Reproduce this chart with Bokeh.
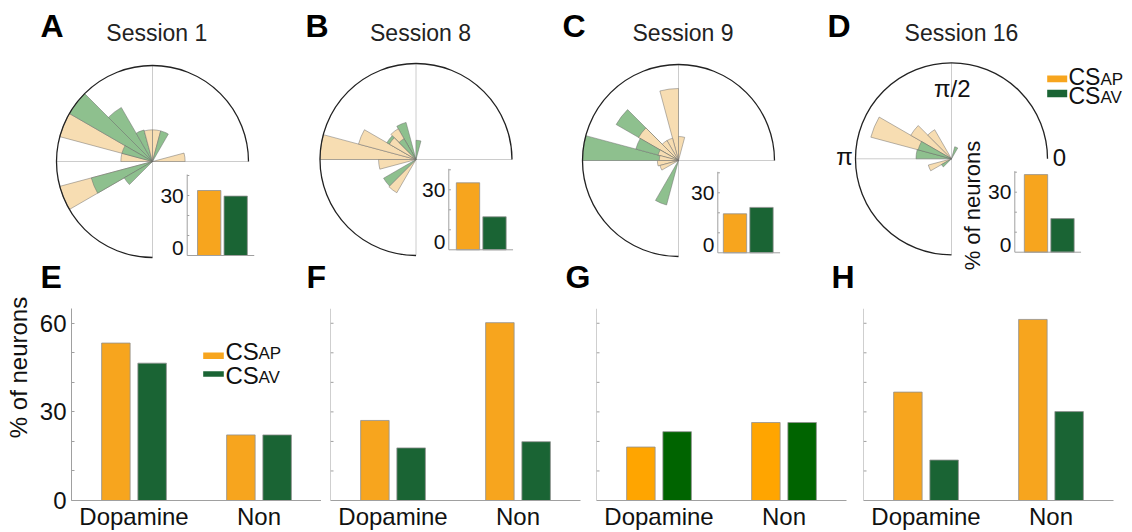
import math
from bokeh.plotting import figure
from bokeh.models import Range1d, FactorRange, Label, FixedTicker, ColumnDataSource, BoxAnnotation, Span
from bokeh.layouts import row, column
from bokeh.transform import dodge
from bokeh.embed import file_html
from bokeh.resources import INLINE
from bokeh.core.properties import value

FONT = "Liberation Sans"

# ---------------- data ----------------
SESSIONS = ["Session 1", "Session 8", "Session 9", "Session 16"]
TOP_LETTERS = ["A", "B", "C", "D"]
BOTTOM_LETTERS = ["E", "F", "G", "H"]
BIN_DEG = 15  # width of every rose sector (degrees)

# rose sectors: start angle of bin (deg) and relative length (1 = outer circle)
S1_AP_BIN = [0, 75, 90, 150, 165, 195]
S1_AP_LEN = [0.34, 0.33, 0.33, 1.0, 0.33, 1.0]
S1_AV_BIN = [60, 105, 120, 135, 150, 195, 210]
S1_AV_LEN = [0.33, 0.34, 0.65, 1.0, 0.33, 0.66, 0.34]

S8_AP_BIN = [120, 135, 150, 165, 180, 225]
S8_AP_LEN = [0.37, 0.32, 0.62, 1.0, 0.39, 0.40]
S8_AV_BIN = [75, 105, 120, 135, 210]
S8_AV_LEN = [0.20, 0.40, 0.25, 0.35, 0.39]

S9_AP_BIN = [75, 90, 105, 120, 135, 150, 165, 180, 195]
S9_AP_LEN = [0.25, 0.75, 0.24, 0.24, 0.48, 0.22, 0.20, 0.22, 0.20]
S9_AV_BIN = [135, 150, 165, 240]
S9_AV_LEN = [0.75, 0.46, 1.0, 0.48]

S16_AP_BIN = [120, 135, 150, 195]
S16_AP_LEN = [0.35, 0.49, 0.87, 0.25]
S16_AV_BIN = [60, 150, 165, 210]
S16_AV_LEN = [0.13, 0.36, 0.37, 0.12]

# inset bars (% of neurons)
INSET_GROUPS = ["CS_AP", "CS_AV"]
INSET_AP = [32.5, 33.5, 19.5, 38.8]
INSET_AV = [29.7, 16.5, 22.7, 16.8]
INSET_TICKS = [0, 30]
INSET_MINOR = [10, 20, 30, 40]

# bottom bar charts (% of neurons)
CATEGORIES = ["Dopamine", "Non"]
E_AP = [53.3, 22.2]
E_AV = [46.5, 22.2]
F_AP = [27.1, 60.2]
F_AV = [17.8, 19.9]
G_AP = [18.1, 26.4]
G_AV = [23.3, 26.4]
H_AP = [36.7, 61.3]
H_AV = [13.7, 30.1]
Y_TICKS = [0, 30, 60]
Y_MINOR = [10, 20, 40, 50]

ROSE = [
    (S1_AP_BIN, S1_AP_LEN, S1_AV_BIN, S1_AV_LEN),
    (S8_AP_BIN, S8_AP_LEN, S8_AV_BIN, S8_AV_LEN),
    (S9_AP_BIN, S9_AP_LEN, S9_AV_BIN, S9_AV_LEN),
    (S16_AP_BIN, S16_AP_LEN, S16_AV_BIN, S16_AV_LEN),
]
BOTTOM_AP = [E_AP, F_AP, G_AP, H_AP]
BOTTOM_AV = [E_AV, F_AV, G_AV, H_AV]

# ---------------- styles ----------------
AP_PALE = "#F7DDB2"
AV_PALE = "#8EC08E"
ORANGE = "#F7A51E"
GREEN = "#1A6434"
BOTTOM_COLORS = [(ORANGE, GREEN), (ORANGE, GREEN), ("#FFA500", "#006400"), (ORANGE, GREEN)]
AXIS_GRAY = "#A0A0A0"
CROSS_GRAY = "#CCCCCC"
TXT = "#111111"

# ---------------- layout (page pixels, origin at top-left of page) ----------------
PAGE_H = 532
YLABEL_W = 34
TOP_BOTTOM = 296
R_PX = 96.0
TOP_LEFT = [YLABEL_W, 287, 549, 815]
TOP_W = [287 - YLABEL_W, 262, 266, 317]
CENTERS = [(152, 161), (415.5, 159), (678, 160), (951, 158.3)]
INSET_AXIS_X = [186.7, 448.3, 717.3, 1014.3]
INSET_BAR1_X = [208.7, 467.5, 734.5, 1035.5]
INSET_BASE_Y = [255, 249.3, 252.3, 251.7]
INSET_PX_X = 26.5
INSET_PX_Y = 2.0
TITLE_X = [156.3, 420, 682.5, 961]
LETTER_X = [40, 305, 562, 827]
BLETTER_X = [40, 306, 565, 831]
LETTER_MID_Y = 25
TITLE_MID_Y = 32.5
BLETTER_MID_Y = 276

BOT_H = PAGE_H - TOP_BOTTOM
BOT_LEFT_BORDER = [37, 9, 11, 12]
BOT_RIGHT_BORDER = [0, 5, 5, 19]
BOT_FRAME_W = 250
BOT_FRAME_TOP = 308
BOT_TOP_BORDER = BOT_FRAME_TOP - TOP_BOTTOM
BOT_FRAME_H = 195
BOT_BOTTOM_BORDER = BOT_H - BOT_TOP_BORDER - BOT_FRAME_H
BOT_YMAX = 65


def top_panel(i):
    L, W = TOP_LEFT[i], TOP_W[i]
    cx, cy = CENTERS[i]
    X = lambda px: (px - cx) / R_PX
    Y = lambda py: (cy - py) / R_PX
    p = figure(width=W, height=TOP_BOTTOM,
               x_range=Range1d(X(L), X(L + W)), y_range=Range1d(Y(TOP_BOTTOM), Y(0)),
               x_axis_type=None, y_axis_type=None, toolbar_location=None,
               output_backend="svg", min_border=0, outline_line_color=None)
    p.grid.visible = False

    # reference cross
    if i == 3:
        p.segment(x0=[-1, 0], y0=[0, -1], x1=[0, 0], y1=[0, 1], line_color=CROSS_GRAY, line_width=1)
    else:
        p.segment(x0=[-1, 0], y0=[0, -1], x1=[1, 0], y1=[0, 1], line_color=CROSS_GRAY, line_width=1)

    ap_bin, ap_len, av_bin, av_len = ROSE[i]
    rows = [(b, l, AP_PALE) for b, l in zip(ap_bin, ap_len)] + \
           [(b, l, AV_PALE) for b, l in zip(av_bin, av_len)]
    rows.sort(key=lambda t: -t[1])
    src = ColumnDataSource(dict(
        a0=[math.radians(r[0]) for r in rows],
        a1=[math.radians(r[0] + BIN_DEG) for r in rows],
        r=[r[1] for r in rows],
        c=[r[2] for r in rows],
    ))
    p.wedge(x=0, y=0, radius="r", start_angle="a0", end_angle="a1", fill_color="c",
            line_color="#6a6a6a", line_width=0.6, line_alpha=0.8, source=src)
    p.arc(x=0, y=0, radius=1, start_angle=0, end_angle=1.5 * math.pi,
          line_color="#222222", line_width=1.3)

    # inset bar chart
    b1, xa, yb = INSET_BAR1_X[i], INSET_AXIS_X[i], INSET_BASE_Y[i]
    IX = lambda px: 1 + (px - b1) / INSET_PX_X
    p.extra_x_ranges = {"ix": Range1d(IX(L), IX(L + W))}
    p.extra_y_ranges = {"iy": Range1d(-(TOP_BOTTOM - yb) / INSET_PX_Y, yb / INSET_PX_Y)}
    ia = IX(xa)
    xs = [k + 1 for k in range(len(INSET_GROUPS))]
    p.vbar(x=xs, top=[INSET_AP[i], INSET_AV[i]], bottom=0, width=0.88,
           fill_color=[ORANGE, GREEN], line_color="#909090", line_width=0.8,
           x_range_name="ix", y_range_name="iy")
    p.segment(x0=[ia, ia], y0=[0, 0], x1=[ia, xs[-1] + 0.7], y1=[40.5, 0],
              line_color=AXIS_GRAY, line_width=1, x_range_name="ix", y_range_name="iy")
    p.segment(x0=[ia] * len(INSET_MINOR), y0=INSET_MINOR, x1=[ia + 0.08] * len(INSET_MINOR), y1=INSET_MINOR,
              line_color=AXIS_GRAY, line_width=1, x_range_name="ix", y_range_name="iy")
    # tick labels: "30" centred on its tick, "0" resting on the baseline
    p.text(x=[ia - 0.13, ia - 0.13], y=[INSET_TICKS[1], INSET_TICKS[0] + 3.75],
           text=[str(INSET_TICKS[1]), str(INSET_TICKS[0])], text_align="right",
           text_baseline="middle", text_font=value(FONT), text_font_size="21px", text_color=TXT,
           x_range_name="ix", y_range_name="iy")

    # panel letters and title
    p.add_layout(Label(x=X(LETTER_X[i]), y=Y(LETTER_MID_Y), text=TOP_LETTERS[i], text_font=FONT,
                       text_font_size="32px", text_font_style="bold", text_color="#000000",
                       text_align="left", text_baseline="middle"))
    p.add_layout(Label(x=X(TITLE_X[i]), y=Y(TITLE_MID_Y), text=SESSIONS[i], text_font=FONT,
                       text_font_size="23px", text_color="#222222",
                       text_align="center", text_baseline="middle"))
    p.add_layout(Label(x=X(BLETTER_X[i]), y=Y(BLETTER_MID_Y), text=BOTTOM_LETTERS[i], text_font=FONT,
                       text_font_size="32px", text_font_style="bold", text_color="#000000",
                       text_align="left", text_baseline="middle"))

    if i == 3:
        for txt, px, py in [("\u03c0/2", 951.7, 87.5), ("\u03c0", 844, 156), ("0", 1059, 157)]:
            p.add_layout(Label(x=X(px), y=Y(py), text=txt, text_font=FONT, text_font_size="24px",
                               text_color=TXT, text_align="center", text_baseline="middle"))
        p.add_layout(Label(x=X(972), y=Y(205), text="% of neurons", angle=math.pi / 2,
                           text_font=FONT, text_font_size="22px", text_color=TXT,
                           text_align="center", text_baseline="middle"))
        # legend
        for col, sub, ytop, ybot, ymid, ysub in [(ORANGE, "AP", 75, 81.7, 76.7, 78.9),
                                                 (GREEN, "AV", 89.3, 96.7, 95.0, 97.2)]:
            p.add_layout(BoxAnnotation(left=X(1046.7), right=X(1066.7), top=Y(ytop), bottom=Y(ybot),
                                       fill_color=col, fill_alpha=1, line_color=None))
            p.add_layout(Label(x=X(1068), y=Y(ymid), text="CS", text_font=FONT, text_font_size="23px",
                               text_color=TXT, text_align="left", text_baseline="middle"))
            p.add_layout(Label(x=X(1100), y=Y(ysub), text=sub, text_font=FONT, text_font_size="17px",
                               text_color=TXT, text_align="left", text_baseline="middle"))
    return p


def ylabel_panel():
    # full-height strip on the left that carries the value-axis title of panel E
    p = figure(width=YLABEL_W, height=PAGE_H, x_range=Range1d(0, YLABEL_W),
               y_range=Range1d(PAGE_H, 0),
               x_axis_type=None, y_axis_type=None, toolbar_location=None,
               output_backend="svg", min_border=0, outline_line_color=None)
    p.grid.visible = False
    p.add_layout(Label(x=18, y=367, text="% of neurons", angle=math.pi / 2,
                       text_font=FONT, text_font_size="24px", text_color=TXT,
                       text_align="center", text_baseline="middle"))
    return p


def bottom_panel(i):
    lb, rb = BOT_LEFT_BORDER[i], BOT_RIGHT_BORDER[i]
    p = figure(width=lb + BOT_FRAME_W + rb, height=BOT_H,
               x_range=FactorRange(factors=CATEGORIES), y_range=Range1d(0, BOT_YMAX),
               toolbar_location=None, output_backend="svg",
               min_border_left=lb, min_border_right=rb,
               min_border_top=BOT_TOP_BORDER, min_border_bottom=BOT_BOTTOM_BORDER,
               outline_line_color=None)
    p.grid.visible = False
    cap, cav = BOTTOM_COLORS[i]
    src = ColumnDataSource(dict(cat=CATEGORIES, ap=BOTTOM_AP[i], av=BOTTOM_AV[i]))
    p.vbar(x=dodge("cat", -0.145, range=p.x_range), top="ap", width=0.228, source=src,
           fill_color=cap, line_color="#909090", line_width=0.8)
    p.vbar(x=dodge("cat", 0.145, range=p.x_range), top="av", width=0.228, source=src,
           fill_color=cav, line_color="#909090", line_width=0.8)

    ya = p.yaxis[0]
    if i == 0:
        ya.ticker = FixedTicker(ticks=Y_TICKS, minor_ticks=Y_MINOR)
        ya.axis_line_color = AXIS_GRAY
        ya.major_tick_line_color = AXIS_GRAY
        ya.minor_tick_line_color = AXIS_GRAY
        ya.major_tick_in = 3
        ya.major_tick_out = 0
        ya.minor_tick_in = 3
        ya.minor_tick_out = 0
        ya.major_label_text_font = FONT
        ya.major_label_text_font_size = "24px"
        ya.major_label_text_color = TXT
        ya.major_label_standoff = 5
    else:
        # unlabeled value axis: line plus inward ticks at the same tick values
        ya.visible = False
        p.add_layout(Span(location=0, dimension="height", line_color=AXIS_GRAY, line_width=1))
        ticks = Y_TICKS[1:] + Y_MINOR
        p.segment(x0=[0] * len(ticks), y0=ticks, x1=[0.024] * len(ticks), y1=ticks,
                  line_color=AXIS_GRAY, line_width=1)

    xa = p.xaxis[0]
    xa.axis_line_color = AXIS_GRAY
    xa.major_tick_in = 0
    xa.major_tick_out = 0
    xa.minor_tick_in = 0
    xa.minor_tick_out = 0
    xa.major_label_text_font = FONT
    xa.major_label_text_font_size = "24px"
    xa.major_label_text_color = TXT
    xa.major_label_standoff = 2

    if i == 0:
        px_x = lambda px: (px - 71) / 125.0
        px_y = lambda py: (503 - py) / 3.0
        for col, sub, ytop, ybot, ymid, ysub in [(ORANGE, "AP", 352.7, 359.3, 351.4, 353.9),
                                                 (GREEN, "AV", 371.7, 377.3, 375.7, 378.2)]:
            p.add_layout(BoxAnnotation(left=px_x(202.7), right=px_x(223.3), top=px_y(ytop),
                                       bottom=px_y(ybot), fill_color=col, fill_alpha=1, line_color=None))
            p.add_layout(Label(x=px_x(225), y=px_y(ymid), text="CS", text_font=FONT,
                               text_font_size="24px", text_color=TXT,
                               text_align="left", text_baseline="middle"))
            p.add_layout(Label(x=px_x(258), y=px_y(ysub), text=sub, text_font=FONT,
                               text_font_size="17px", text_color=TXT,
                               text_align="left", text_baseline="middle"))
    return p


top = row([top_panel(i) for i in range(4)], spacing=0)
bottom = row([bottom_panel(i) for i in range(4)], spacing=0)
layout = row([ylabel_panel(), column([top, bottom], spacing=0)], spacing=0)

open("out.html", "w").write(file_html(layout, INLINE))
